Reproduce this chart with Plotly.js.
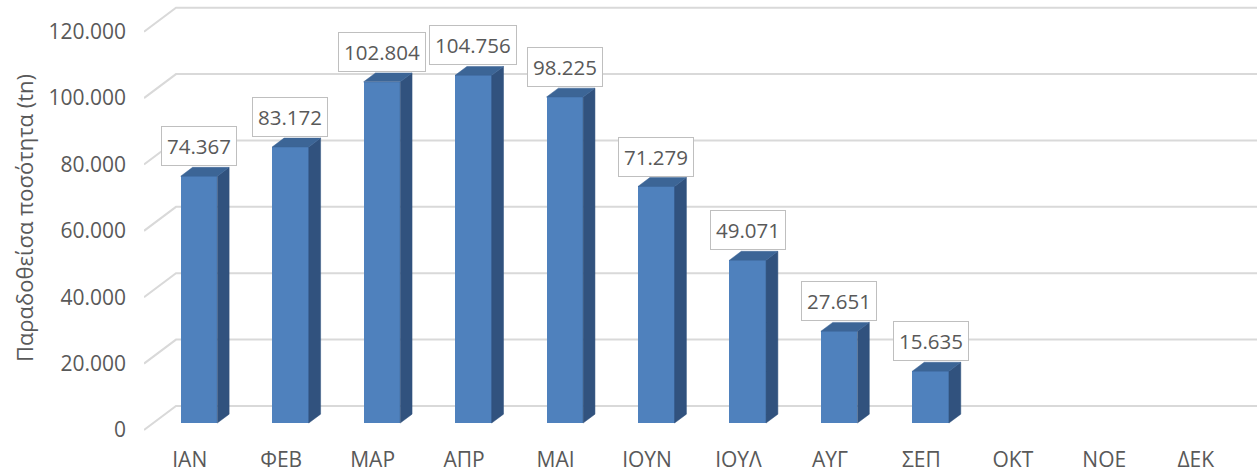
<!DOCTYPE html>
<html>
<head>
<meta charset="utf-8">
<script src="https://cdn.plot.ly/plotly-3.0.1.min.js"></script>
<style>html,body{margin:0;padding:0;background:#fff;}#chart{width:1257px;height:472px;}</style>
</head>
<body>
<div id="chart"></div>
<script>
// ---- data ----
const months = ["ΙΑΝ","ΦΕΒ","ΜΑΡ","ΑΠΡ","ΜΑΙ","ΙΟΥΝ","ΙΟΥΛ","ΑΥΓ","ΣΕΠ","ΟΚΤ","ΝΟΕ","ΔΕΚ"];
const quantities = [74367, 83172, 102804, 104756, 98225, 71279, 49071, 27651, 15635, null, null, null];
const yTicks = [0, 20000, 40000, 60000, 80000, 100000, 120000];
const yTitle = "Παραδοθείσα ποσότητα (tn)";

// ---- 3D projection style (oblique) ----
const wallDx = 0.35, wallDy = 7231;        // back wall offset in axis units
const barF = 0.29;                          // bar front face depth fraction
const barDepth = 0.37;                      // bar depth fraction
const barW = 0.40;
const frontCol = "#4F81BD", sideCol = "#31527E", topCol = "#3C6596";
const textCol = "#595959";
const fontFam = "'Open Sans', 'Noto Sans', sans-serif";

const xIdx = months.map((m, i) => i);
const shiftX = barF * wallDx, baseY = barF * wallDy;
const dX = barDepth * wallDx, dY = barDepth * wallDy;

const fmt = v => String(v).replace(/\B(?=(\d{3})+(?!\d))/g, ".");

const traces = [];
// front faces
traces.push({
  type: "bar",
  x: xIdx.map(i => i + shiftX),
  y: quantities,
  base: quantities.map(() => baseY),
  width: barW,
  marker: {color: frontCol, line: {width: 0}},
  hoverinfo: "skip",
  showlegend: false
});
// side & top faces
const sx = [], sy = [], tx = [], ty = [];
quantities.forEach((v, i) => {
  if (v == null) return;
  const xl = i + shiftX - barW / 2, xr = i + shiftX + barW / 2;
  const b = baseY, t = baseY + v;
  sx.push(xr, xr + dX, xr + dX, xr, xr, null);
  sy.push(b, b + dY, t + dY, t, b, null);
  tx.push(xl, xr, xr + dX, xl + dX, xl, null);
  ty.push(t, t, t + dY, t + dY, t, null);
});
traces.push({type: "scatter", mode: "lines", x: sx, y: sy, fill: "toself", fillcolor: sideCol,
  line: {width: 0.5, color: sideCol}, hoverinfo: "skip", showlegend: false});
traces.push({type: "scatter", mode: "lines", x: tx, y: ty, fill: "toself", fillcolor: topCol,
  line: {width: 0.5, color: topCol}, hoverinfo: "skip", showlegend: false});

// gridlines (floor edge + back wall)
const xMin = -0.5, xMax = 11.67;
const shapes = yTicks.map(v => ({
  type: "path", xref: "x", yref: "y", layer: "below",
  path: `M ${xMin},${v} L ${xMin + wallDx},${v + wallDy} L ${xMax + 1},${v + wallDy}`,
  line: {color: "#D9D9D9", width: 2}
}));

// data labels
const annotations = [];
quantities.forEach((v, i) => {
  if (v == null) return;
  annotations.push({
    x: i + shiftX, y: baseY + v + dY, xref: "x", yref: "y",
    text: fmt(v), showarrow: false, xanchor: "center", yanchor: "bottom", yshift: 1,
    font: {family: fontFam, size: 20.5, color: textCol},
    bgcolor: "#FFFFFF", bordercolor: "#BFBFBF", borderwidth: 1, borderpad: 5
  });
});

const layout = {
  width: 1257, height: 472, autosize: false,
  margin: {l: 144, r: 0, t: 0, b: 36, pad: 0},
  paper_bgcolor: "#FFFFFF", plot_bgcolor: "rgba(0,0,0,0)",
  separators: ",.",
  font: {family: fontFam, size: 21, color: textCol},
  showlegend: false,
  xaxis: {
    range: [xMin, xMax], tickvals: xIdx, ticktext: months,
    showgrid: false, zeroline: false, showline: false, ticks: "",
    ticklabelstandoff: 9, tickfont: {family: fontFam, size: 21, color: textCol},
    fixedrange: true
  },
  yaxis: {
    range: [-1808, 129557], tickvals: yTicks, tickformat: ",d",
    showgrid: false, zeroline: false, showline: false, ticks: "",
    ticklabelstandoff: 17, tickfont: {family: fontFam, size: 21, color: textCol},
    title: {text: yTitle, font: {family: fontFam, size: 22, color: textCol}, standoff: 8},
    fixedrange: true
  },
  shapes: shapes,
  annotations: annotations,
  bargap: 0
};

Plotly.newPlot("chart", traces, layout, {displayModeBar: false, staticPlot: true});
</script>
</body>
</html>
